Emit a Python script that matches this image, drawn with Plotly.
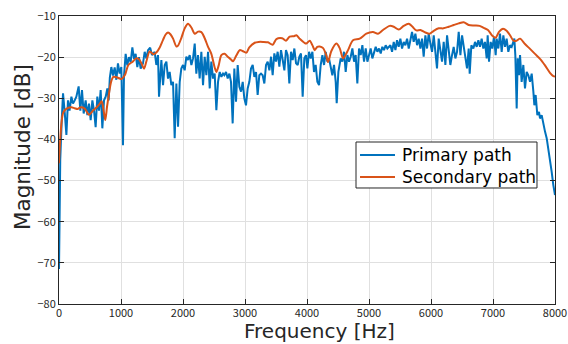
import plotly.graph_objects as go

# ---------------- data ----------------
primary_freq = [
    0, 20, 45, 65, 90, 119, 145, 170, 200, 226, 253, 280, 317, 344, 371, 398, 430, 457, 484, 511,
    538, 565, 591, 618, 645, 672, 699, 726, 753, 780, 801, 820, 844, 871, 898, 925, 951, 978, 1005, 1032,
    1048, 1075, 1102, 1129, 1156, 1183, 1210, 1236, 1263, 1290, 1317,
    1355, 1382, 1409, 1436, 1470, 1500, 1543, 1570, 1597, 1613, 1635, 1651, 1678, 1705, 1732, 1758, 1785,
    1812, 1839, 1866, 1893, 1920, 1947, 1973, 2000, 2027, 2054, 2081, 2108, 2135, 2162, 2189, 2215, 2242,
    2269, 2296, 2323, 2350, 2377, 2404, 2431, 2457, 2484, 2511, 2538, 2565, 2592, 2619, 2646,
    2667, 2694, 2721, 2748, 2774, 2801, 2828, 2855, 2882, 2909, 2936, 2963, 2989, 3016, 3043, 3070, 3097,
    3124, 3151, 3178, 3204, 3231, 3258, 3285, 3312, 3339, 3366, 3393, 3420, 3446, 3473, 3500, 3527, 3554,
    3581, 3608, 3635, 3661, 3688, 3715, 3742, 3769, 3796, 3823, 3850, 3876, 3903, 3930, 3957, 3984,
    4006, 4033, 4060, 4087, 4113, 4140, 4167, 4194, 4221, 4248, 4275, 4302, 4328, 4355, 4382, 4409, 4436,
    4463, 4479, 4506, 4543, 4570, 4597, 4624, 4651, 4678, 4705, 4732, 4759, 4785, 4812, 4839, 4866, 4893,
    4920, 4947, 4974, 5000, 5027, 5054, 5081, 5108, 5135, 5162, 5189, 5215, 5242, 5269, 5296, 5323,
    5345, 5372, 5399, 5426, 5452, 5479, 5506, 5533, 5560, 5587, 5614, 5641, 5667, 5694, 5721, 5748, 5775,
    5802, 5829, 5856, 5882, 5909, 5936, 5963, 5990, 6017, 6044, 6071, 6097, 6124, 6151, 6178, 6205, 6232,
    6259, 6286, 6312, 6339, 6366, 6393, 6420, 6447, 6474, 6501, 6527, 6554, 6581, 6608, 6624, 6651,
    6683, 6710, 6737, 6764, 6790, 6817, 6844, 6871, 6898, 6914, 6936, 6962, 6989, 7016, 7043, 7059, 7086,
    7113, 7140, 7167, 7194, 7220, 7247, 7274, 7301, 7328, 7344, 7360, 7382, 7398, 7419, 7436, 7462, 7489,
    7516, 7543, 7570, 7597, 7624, 7651, 7667, 7688, 7715, 7742, 7758, 7785, 7812, 7839, 7866, 7892, 7919,
    7946, 7973, 8000,
]
primary_db = [
    -71.5, -45, -35, -28.8, -33, -38.9, -30.5, -33, -29.6, -31.3, -30.5, -29.6, -27.1, -33, -28, -33.7, -30.5, -34.1, -31.3, -35.3,
    -30.5, -33, -37, -29.6, -33, -28, -37.3, -30.5, -29.6, -27.6, -30.5, -25, -22.4, -24.5, -22.5, -25.5, -21.5, -24, -22.4, -41.4,
    -24.6, -19.2, -22, -20, -21.2, -17.6, -20.4, -19.2, -22.4, -20, -22.8,
    -21.5, -18.7, -20.3, -18.3, -17.7, -19.5, -18.7, -21.9, -19.5, -29.6, -22.75, -20.7, -26.8, -21.9, -21.1, -25.2, -23.6,
    -26.8, -26.0, -39.7, -26.4, -36.9, -26.0, -22.75, -21.9, -23.2, -19.9, -20.7, -19.5, -21.9, -20.3, -16.7, -24.0, -19.5,
    -25.2, -18.7, -26.8, -19.9, -24.4, -18.7, -27.6, -21.1, -25.2, -24.0, -32.9, -26.0, -23.6, -24.8, -24.0,
    -24.4, -23.6, -25.2, -24.0, -26.0, -36.1, -22.75, -30.8, -21.9, -27.2, -28.4, -26.0, -30.0, -31.7, -27.6, -26.0, -22.75,
    -21.9, -24.8, -23.6, -29.2, -24.4, -24.0, -24.4, -26.4, -21.9, -21.1, -23.2, -19.9, -24.4, -19.1, -21.1, -18.7, -22.3,
    -18.3, -20.7, -23.2, -18.3, -19.5, -26.4, -18.7, -20.7, -17.9, -21.5, -21.9, -19.9, -19.1, -29.6, -20.3, -19.5,
    -22.75, -18.7, -20.3, -18.7, -23.6, -21.9, -26.0, -26.8, -21.9, -19.5, -21.9, -18.7, -21.1, -20.3, -22.75, -24.4, -21.9,
    -26.0, -31.2, -23.6, -20.3, -21.1, -18.7, -23.6, -19.5, -21.1, -19.9, -17.9, -21.1, -19.5, -26.4, -17.9, -19.5, -17.1,
    -21.1, -17.9, -21.1, -19.1, -17.9, -20.3, -18.7, -17.5, -18.7, -17.9, -19.1, -17.5, -18.3, -17.1, -17.9, -17.5,
    -17.1, -18.7, -16.3, -18.3, -15.9, -17.5, -15.5, -17.9, -16.3, -17.1, -15.5, -17.9, -15.9, -13.85, -16.3, -14.3, -17.1,
    -15.5, -17.9, -15.5, -19.9, -14.7, -17.9, -14.3, -16.7, -18.7, -14.7, -19.5, -22.75, -15.5, -18.7, -21.1, -16.3, -21.9,
    -14.7, -17.9, -21.9, -19.5, -17.5, -20.3, -18.7, -13.85, -19.5, -14.7, -17.1, -20.3, -22.75, -17.9, -24.0, -17.1,
    -17.9, -16.3, -17.5, -15.9, -17.5, -15.5, -17.9, -16.3, -20.3, -14.7, -21.1, -16.3, -17.9, -15.1, -19.5, -15.5, -17.9,
    -14.3, -18.7, -14.7, -17.5, -15.5, -18.7, -17.1, -17.5, -16.3, -15.5, -19.5, -32.5, -20.3, -24.4, -19.5, -26.0, -21.9,
    -27.6, -23.6, -24.4, -26.0, -24.0, -28.4, -31.7, -29.2, -34.1, -33.3, -34.9, -34.1, -36.5, -38.1, -39.7, -42.2, -44.6,
    -47.8, -51.1, -53.5,
]

secondary_freq = [
    0, 20, 40, 65, 100, 150, 200, 250, 300, 350, 414, 484, 548, 600, 650, 688, 720, 747, 775, 800,
    840, 877, 930, 980, 1010, 1065, 1118, 1188, 1242, 1290, 1330, 1371, 1410, 1463, 1520, 1570, 1620, 1678,
    1720, 1759, 1800, 1840, 1893, 1920, 1974, 2028, 2081, 2135, 2189, 2242, 2296, 2350, 2404, 2457, 2511,
    2538, 2576, 2619, 2673, 2721, 2770, 2807, 2860, 2915, 2960, 3022, 3070, 3157, 3220, 3290, 3370, 3446,
    3506, 3600, 3661, 3720, 3790, 3829, 3887, 3957, 3990, 4044, 4090, 4124, 4165, 4205, 4260, 4310, 4339,
    4393, 4474, 4527, 4581, 4620, 4662, 4742, 4850, 4957, 5064, 5145, 5226, 5334, 5399, 5479, 5560, 5641,
    5694, 5764, 5829, 5909, 5979, 6044, 6124, 6200, 6286, 6366, 6447, 6527, 6608, 6705, 6785, 6850, 6919,
    6989, 7040, 7100, 7161, 7220, 7280, 7330, 7380, 7436, 7516, 7597, 7677, 7758, 7839, 7919, 7973, 8000,
]
secondary_db = [
    -45.8, -40, -36, -33.6, -32.8, -32.3, -32.2, -32.4, -32.6, -32.2, -32.5, -34, -33, -32.3, -31.5, -30.7, -33, -35.3, -32, -29.5,
    -26, -24.8, -24.9, -25.2, -25.3, -24.3, -21.9, -21.1, -20.3, -20.5, -21.5, -22.8, -21, -18.6, -19.3, -18.9, -17.8, -15.8,
    -14.5, -14.0, -14.5, -15.5, -17.4, -17.2, -15.3, -13.0, -11.9, -12.8, -14.3, -13.8, -13.9, -15.4, -17.5, -19.2, -22.5,
    -23.6, -22.0, -19.5, -19.2, -19.9, -20.5, -21.0, -19.6, -18.3, -18.5, -18.9, -17.6, -16.5, -16.3, -16.3, -16.4, -17.0,
    -15.6, -15.4, -16.0, -15.0, -14.9, -14.7, -15.6, -16.5, -16.7, -16.0, -17.2, -18.3, -17.5, -17.4, -17.8, -19.5, -21.2,
    -18.5, -16.7, -17.8, -20.3, -19.5, -18.3, -15.9, -15.5, -14.3, -13.9, -14.3, -13.4, -12.4, -12.6, -13.3, -12.4, -11.9,
    -12.5, -13.5, -13.4, -14.0, -14.3, -13.6, -13.0, -13.0, -12.6, -12.2, -11.8, -11.5, -12.2, -12.3, -12.4, -12.9, -13.4,
    -14.8, -15.3, -13.8, -13.1, -13.6, -14.8, -16.0, -16.0, -15.5, -16.8, -18.0, -19.2, -20.4, -22.0, -23.8, -24.6, -24.7,
]

series_names = ["Primary path", "Secondary path"]
series_colors = ["#0072BD", "#D95319"]

x_ticks = [0, 1000, 2000, 3000, 4000, 5000, 6000, 7000, 8000]
y_ticks = [-80, -70, -60, -50, -40, -30, -20, -10]
y_ticktext = ["\u221280", "\u221270", "\u221260", "\u221250", "\u221240", "\u221230", "\u221220", "\u221210"]
x_title = "Frequency [Hz]"
y_title = "Magnitude [dB]"

TICKFONT = "Noto Sans CJK JP, Noto Sans, sans-serif"
LABFONT = "DejaVu Sans, sans-serif"
AX = "#262626"

fig = go.Figure()
fig.add_trace(go.Scatter(x=primary_freq, y=primary_db, mode="lines", name=series_names[0],
                         line=dict(color=series_colors[0], width=2)))
fig.add_trace(go.Scatter(x=secondary_freq, y=secondary_db, mode="lines", name=series_names[1],
                         line=dict(color=series_colors[1], width=2, shape="spline", smoothing=0.8)))

axis_common = dict(showline=True, linecolor=AX, linewidth=1, mirror="ticks", ticks="inside",
                   ticklen=5, tickcolor=AX, tickwidth=1, showgrid=True, gridcolor="#e0e0e0",
                   gridwidth=1, zeroline=False, automargin=False,
                   tickfont=dict(family=TICKFONT, size=11, color=AX))

# ---- legend box (drawn as paper-anchored shapes + text) ----
leg_x0, leg_x1, leg_y0, leg_y1 = 0.5988, 0.9637, 0.4028, 0.5625
leg_line_x0, leg_line_x1, leg_text_x = 0.6069, 0.6774, 0.6875
leg_rows_y = [0.5174, 0.441]

shapes = [dict(type="rect", xref="paper", yref="paper", x0=leg_x0, x1=leg_x1, y0=leg_y0, y1=leg_y1,
               line=dict(color=AX, width=1), fillcolor="white", layer="above")]
annotations = []
for name, col, yy in zip(series_names, series_colors, leg_rows_y):
    shapes.append(dict(type="line", xref="paper", yref="paper", x0=leg_line_x0, x1=leg_line_x1,
                       y0=yy, y1=yy, line=dict(color=col, width=2), layer="above"))
    annotations.append(dict(xref="paper", yref="paper", x=leg_text_x, y=yy, text=name, showarrow=False,
                            xanchor="left", yanchor="middle",
                            font=dict(family=LABFONT, size=17, color="#000000")))

annotations.append(dict(xref="paper", yref="paper", x=0.526, y=-0.1389, text=x_title, showarrow=False,
                        xanchor="center", yanchor="bottom", borderpad=0,
                        font=dict(family=LABFONT, size=20, color=AX)))
annotations.append(dict(xref="paper", yref="paper", x=-0.0746, y=0.545, text=y_title, showarrow=False,
                        textangle=-90, xanchor="center", yanchor="middle",
                        font=dict(family=LABFONT, size=21.5, color=AX)))

fig.update_layout(
    width=568, height=344,
    margin=dict(l=59, r=13, t=16, b=40),
    paper_bgcolor="white", plot_bgcolor="white",
    font=dict(family=TICKFONT, color=AX),
    xaxis=dict(range=[0, 8000], tickvals=x_ticks, ticklabelstandoff=-1, **axis_common),
    yaxis=dict(range=[-80, -10], tickvals=y_ticks, ticktext=y_ticktext, **axis_common),
    shapes=shapes,
    annotations=annotations,
    showlegend=False,
)

fig.write_html("out.html")
